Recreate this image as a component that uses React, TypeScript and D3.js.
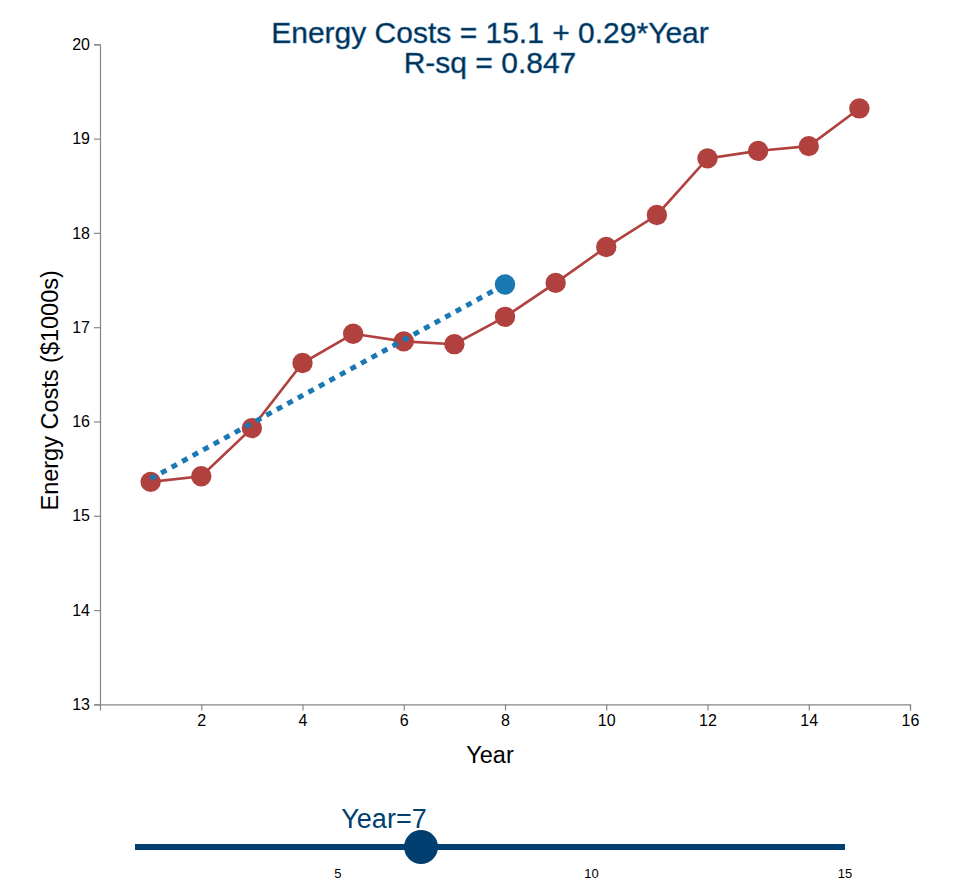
import React, { useEffect, useRef } from "react";
import * as d3 from "d3";

const years = [1, 2, 3, 4, 5, 6, 7, 8, 9, 10, 11, 12, 13, 14, 15];
const energyCosts = [15.36, 15.42, 15.93, 16.62, 16.93, 16.85, 16.82, 17.11, 17.47, 17.85, 18.19, 18.79, 18.87, 18.92, 19.32];
const xTicks = [2, 4, 6, 8, 10, 12, 14, 16];
const yTicks = [13, 14, 15, 16, 17, 18, 19, 20];
const sliderTicks = [5, 10, 15];
const selectedYear = 7;
const sliderHandleValue = 6.64;
const titleLines = ["Energy Costs = 15.1 + 0.29*Year", "R-sq = 0.847"];

export default function App() {
  const ref = useRef<SVGSVGElement>(null);

  useEffect(() => {
    const svg = d3.select(ref.current);
    svg.selectAll("*").remove();
    const font = "'Liberation Sans', Arial, Helvetica, sans-serif";

    const x = d3.scaleLinear().domain([0, 16]).range([92, 902]);
    const y = d3.scaleLinear().domain([13, 20]).range([696.4, 36.3]);

    // axes
    const gx = svg.append("g").attr("transform", `translate(0,${y(13)})`)
      .call(d3.axisBottom(x).tickValues(xTicks).tickSize(6).tickSizeOuter(6).tickFormat(d3.format("d")));
    const gy = svg.append("g").attr("transform", `translate(${x(0)},0)`)
      .call(d3.axisLeft(y).tickValues(yTicks).tickSize(6).tickSizeOuter(6).tickFormat(d3.format("d")));
    [gx, gy].forEach((g) => {
      g.selectAll("path,line").attr("stroke", "#888").attr("stroke-width", 1.2);
      g.selectAll("text").attr("font-family", font).attr("font-size", 16).attr("fill", "#000");
    });
    gx.selectAll("text").attr("dy", "0.8em");
    gy.selectAll("text").attr("x", -10);

    svg.append("text").attr("x", 482).attr("y", 755).attr("text-anchor", "middle")
      .attr("font-family", font).attr("font-size", 23.5).attr("fill", "#000").text("Year");
    svg.append("text").attr("transform", `translate(50,${(y(13) + y(20)) / 2 + 16}) rotate(-90)`)
      .attr("text-anchor", "middle").attr("font-family", font).attr("font-size", 23.5).attr("fill", "#000")
      .text("Energy Costs ($1000s)");

    // data line
    const pts = years.map((yr, i) => [yr, energyCosts[i]] as [number, number]);
    const line = d3.line<[number, number]>().x((d) => x(d[0])).y((d) => y(d[1]));
    svg.append("path").datum(pts).attr("d", line).attr("fill", "none")
      .attr("stroke", "#b0413e").attr("stroke-width", 2.6);
    svg.selectAll("circle.pt").data(pts).enter().append("circle").attr("class", "pt")
      .attr("cx", (d) => x(d[0])).attr("cy", (d) => y(d[1])).attr("r", 10.2).attr("fill", "#b0413e");

    // regression on years <= selectedYear
    const sub = pts.filter((d) => d[0] <= selectedYear);
    const mx = d3.mean(sub, (d) => d[0]) as number;
    const my = d3.mean(sub, (d) => d[1]) as number;
    const sxy = d3.sum(sub, (d) => (d[0] - mx) * (d[1] - my));
    const sxx = d3.sum(sub, (d) => (d[0] - mx) ** 2);
    const slope = sxy / sxx;
    const intercept = my - slope * mx;
    const fit = [1, selectedYear + 1].map((v) => [v, intercept + slope * v] as [number, number]);
    svg.append("path").datum(fit).attr("d", line).attr("fill", "none")
      .attr("stroke", "#1a78b3").attr("stroke-width", 5).attr("stroke-dasharray", "6,6");
    svg.append("circle").attr("cx", x(fit[1][0])).attr("cy", y(fit[1][1])).attr("r", 10.2).attr("fill", "#1a78b3");

    // title
    const title = svg.append("text").attr("text-anchor", "middle").attr("font-family", font)
      .attr("font-size", 30).attr("fill", "#062c48").attr("stroke", "#1f77b4").attr("stroke-width", 0.5);
    titleLines.forEach((t, i) => {
      title.append("tspan").attr("x", 482).attr("y", 35 + i * 30).text(t);
    });

    // slider
    const s = d3.scaleLinear().domain([1, 15]).range([127, 837]);
    const sy = 839;
    svg.append("line").attr("x1", s(1)).attr("x2", s(15)).attr("y1", sy).attr("y2", sy)
      .attr("stroke", "#003f6f").attr("stroke-width", 6);
    svg.selectAll("text.st").data(sliderTicks).enter().append("text").attr("class", "st")
      .attr("x", (d) => s(d)).attr("y", sy + 31).attr("text-anchor", "middle")
      .attr("font-family", font).attr("font-size", 13).attr("fill", "#000").text((d) => d);
    svg.append("circle").attr("cx", s(sliderHandleValue)).attr("cy", sy).attr("r", 17).attr("fill", "#003f6f");
    svg.append("text").attr("x", 376).attr("y", 820).attr("text-anchor", "middle")
      .attr("font-family", font).attr("font-size", 27).attr("fill", "#003f6f").text(`Year=${selectedYear}`);
  }, []);

  return <svg ref={ref} width={956} height={880} style={{ display: "block" }} />;
}
